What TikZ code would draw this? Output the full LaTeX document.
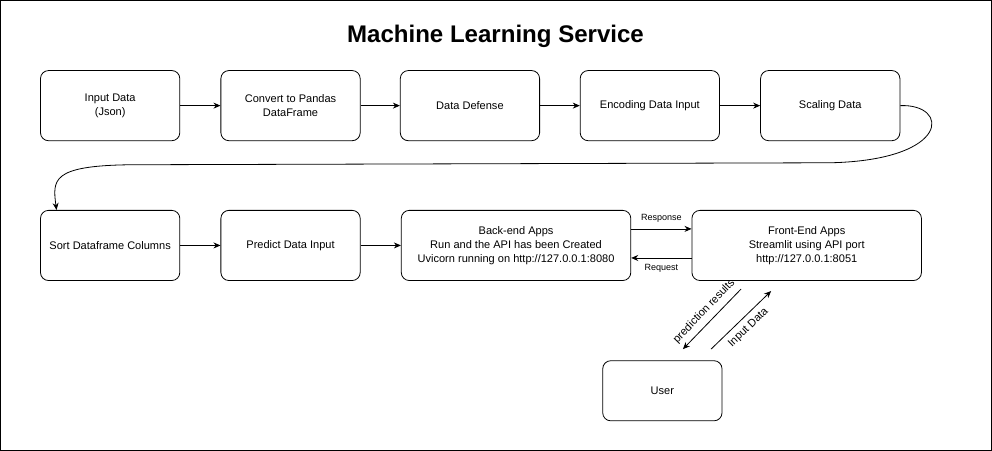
\documentclass[tikz,border=0pt]{standalone}
\usepackage{fontspec}
\setmainfont{Liberation Sans}
\usetikzlibrary{arrows.meta, positioning}
\tikzset{
  box/.style={draw, rounded corners=8pt, minimum width=139pt, minimum height=70pt, align=center, font=\fontsize{11}{14}\selectfont, thick},
  wide/.style={box, minimum width=229pt},
  flow/.style={-{Stealth[length=7pt,width=6pt]}, thick},
  tag/.style={font=\fontsize{9}{11}\selectfont},
  side/.style={font=\fontsize{11}{13}\selectfont, sloped}
}
\begin{document}
\begin{tikzpicture}[x=1pt,y=-1pt]
        \draw[thick] (1,1) rectangle (990,450);
        \node[font=\bfseries\fontsize{24}{28}\selectfont] (title) at (495,37) {Machine Learning Service};

        \node[box]   (inp) at (110.5,106)                 {Input Data\\(Json)};
        \node[box]   (pd) at (290.5,106)                  {Convert to Pandas\\DataFrame};
        \node[box]   (def) at (469.5,106)                 {Data Defense};
        \node[box]   (enc) at (649,106)                   {Encoding Data Input};
        \node[box]   (scl) at (829,106)                   {Scaling Data};

        \node[box]   (srt) at (110.5,245.5)               {Sort Dataframe Columns};
        \node[box]   (pre) at (290.5,245.5)               {Predict Data Input};
        \node[wide]  (be) at (515.5,245.5)                {Back-end Apps\\Run and the API has been Created\\Uvicorn running on http://127.0.0.1:8080};
        \node[wide]  (fe) at (805.5,245.5)                {Front-End Apps\\Streamlit using API port\\http://127.0.0.1:8051};
        \node[box, minimum width=119pt, minimum height=60pt] (usr) at (661.5,390.5) {User};

        \coordinate (c1) at (830,163);
        \coordinate (c2) at (130,165);
        \coordinate (p1) at (740,289);
        \coordinate (p2) at (682,349);
        \coordinate (i1) at (710,349);
        \coordinate (i2) at (770,291);

        \draw[flow] (inp) -- (pd);
        \draw[flow] (pd) -- (def);
        \draw[flow] (def) -- (enc);
        \draw[flow] (enc) -- (scl);
        \draw[flow] (scl.east) .. controls (948,104) and (950,160) .. (c1) -- (c2)
            .. controls (52,166) and (53,180) .. (srt.north -| 57,0);
        \draw[flow] (srt) -- (pre);
        \draw[flow] (pre) -- (be);

        % api calls
        \draw[flow] (be.east |- 0,229) -- node[tag, above=3pt] {Response} (fe.west |- 0,229);
        \draw[flow] (fe.west |- 0,258) -- node[tag, below=3pt] {Request} (be.east |- 0,258);

        \draw[flow] (p1) -- node[side, above=2pt] {prediction results} (p2);
        \draw[flow] (i1) -- node[side, below=2pt] {Input Data} (i2);
\end{tikzpicture}
\end{document}
